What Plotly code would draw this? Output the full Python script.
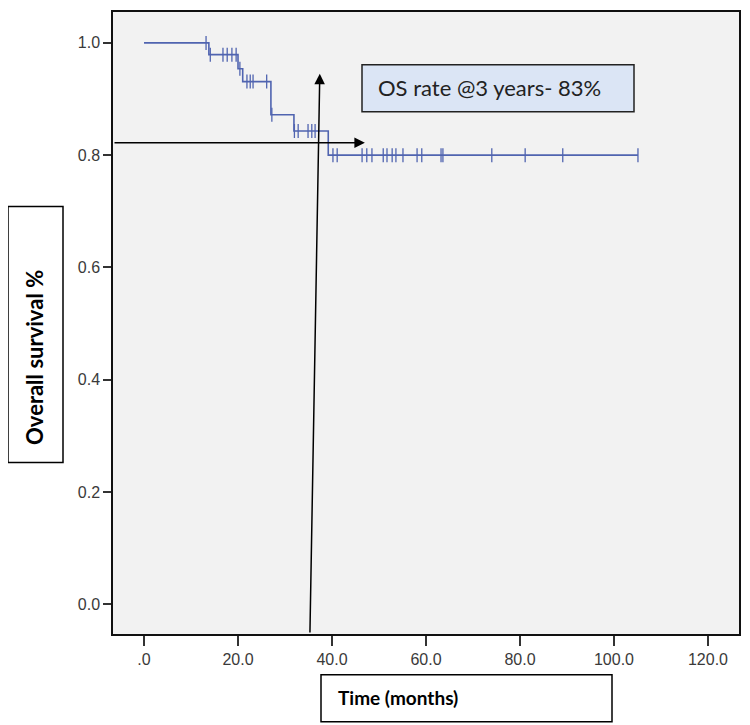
import numpy as np
import plotly.graph_objects as go

# ---- data ----
EVENT_TIMES = [0.0, 13.8, 20.0, 21.0, 27.0, 31.9, 39.2]
SURVIVAL = [1.000, 0.979, 0.954, 0.931, 0.872, 0.843, 0.800]
CENSOR_TIMES = [13.2, 14.1, 16.8, 17.7, 18.7, 19.6, 20.4, 21.9, 22.6, 23.2, 26.1,
                27.2, 32.0, 32.8, 34.9, 35.7, 36.4, 40.2, 41.1, 46.4, 47.4, 48.5,
                50.9, 51.7, 52.8, 53.6, 55.1, 58.1, 59.1, 63.2, 63.6, 74.0, 81.1,
                89.1, 105.1]
X_TICKS = [0, 20, 40, 60, 80, 100, 120]
X_TICK_LABELS = [".0", "20.0", "40.0", "60.0", "80.0", "100.0", "120.0"]
Y_TICKS = [0.0, 0.2, 0.4, 0.6, 0.8, 1.0]
Y_TICK_LABELS = ["0.0", "0.2", "0.4", "0.6", "0.8", "1.0"]
OS_3YR_TEXT = "OS rate @3 years- 83%"
OS_3YR_VALUE = 0.822
THREE_YEARS = (35.3, 37.4)  # bottom / top of the slightly tilted arrow

# ---- layout constants (page has an 8px body margin) ----
OFF = 8
W, H = 750 - OFF, 725 - OFF
L, R, T, B = 113 - OFF, 11, 10 - OFF, 91
X_RANGE = [-6.6, 126.6]
Y_RANGE = [-0.053, 1.055]
LINE_COLOR = "#5064b0"

def px(x):
    # screen pixel -> paper fraction
    return (x - OFF - L) / (W - L - R)

def py(y):
    return (H - B - (y - OFF)) / (H - T - B)

# step curve
curve_x = EVENT_TIMES + [CENSOR_TIMES[-1]]
curve_y = SURVIVAL + [SURVIVAL[-1]]
idx = np.searchsorted(np.array(EVENT_TIMES), np.array(CENSOR_TIMES), side="right") - 1
censor_y = [SURVIVAL[i] for i in idx]

fig = go.Figure()
fig.add_trace(go.Scatter(x=curve_x, y=curve_y, mode="lines", line_shape="hv",
                         line=dict(color=LINE_COLOR, width=1.6), hoverinfo="skip",
                         showlegend=False))
fig.add_trace(go.Scatter(x=CENSOR_TIMES, y=censor_y, mode="markers",
                         marker=dict(symbol="line-ns", size=10,
                                     line=dict(color=LINE_COLOR, width=1.3)),
                         showlegend=False))

axis_common = dict(showline=True, linecolor="#111", linewidth=1.5, mirror=True,
                   ticks="outside", tickwidth=1.5, tickcolor="#333",
                   showgrid=False, zeroline=False,
                   tickfont=dict(family="Liberation Sans", size=16, color="#3a3a3a"))
fig.update_xaxes(range=X_RANGE, tickvals=X_TICKS, ticktext=X_TICK_LABELS, ticklen=10,
                 **axis_common)
fig.update_yaxes(range=Y_RANGE, tickvals=Y_TICKS, ticktext=Y_TICK_LABELS, ticklen=8,
                 **axis_common)

shapes = [
    # y-label box
    dict(type="rect", xref="paper", yref="paper", x0=px(8), x1=px(63), y0=py(462), y1=py(205),
         line=dict(color="black", width=1.5), fillcolor="white"),
    # x-label box
    dict(type="rect", xref="paper", yref="paper", x0=px(321), x1=px(612), y0=py(722), y1=py(675),
         line=dict(color="black", width=1.5), fillcolor="white"),
    # OS rate box
    dict(type="rect", xref="paper", yref="paper", x0=px(362), x1=px(634), y0=py(110), y1=py(63),
         line=dict(color="#222", width=1.5), fillcolor="#dbe5f5"),
    # tiny marks outside top-right
    dict(type="line", xref="paper", yref="paper", x0=px(743), x1=px(747), y0=py(23), y1=py(23),
         line=dict(color="#999", width=1)),
    dict(type="line", xref="paper", yref="paper", x0=px(743), x1=px(747), y0=py(40), y1=py(40),
         line=dict(color="#999", width=1)),
]

annotations = [
    dict(text="<b>Overall survival %</b>", xref="paper", yref="paper", x=px(35), y=py(357),
         xanchor="center", yanchor="middle", textangle=-90, showarrow=False,
         font=dict(family="Lato", size=22, color="black")),
    dict(text="<b>Time (months)</b>", xref="paper", yref="paper", x=px(336), y=py(698),
         xanchor="left", yanchor="middle", showarrow=False,
         font=dict(family="Lato", size=19, color="black")),
    dict(text=OS_3YR_TEXT, xref="paper", yref="paper", x=px(376), y=py(86),
         xanchor="left", yanchor="middle", showarrow=False,
         font=dict(family="Lato", size=22, color="#222")),
    # horizontal arrow at the 3-year OS level
    dict(x=47.0, y=OS_3YR_VALUE, ax=X_RANGE[0], ay=OS_3YR_VALUE, xref="x", yref="y",
         axref="x", ayref="y", showarrow=True, arrowhead=2, arrowsize=1.4,
         arrowwidth=1.5, arrowcolor="black", text=""),
    # vertical arrow at 3 years
    dict(x=THREE_YEARS[1], y=0.945, ax=THREE_YEARS[0], ay=Y_RANGE[0], xref="x", yref="y",
         axref="x", ayref="y", showarrow=True, arrowhead=2, arrowsize=1.4,
         arrowwidth=1.5, arrowcolor="black", text=""),
]

fig.update_layout(width=W, height=H, margin=dict(l=L, r=R, t=T, b=B),
                  paper_bgcolor="white", plot_bgcolor="#f2f2f2",
                  shapes=shapes, annotations=annotations, showlegend=False)

fig.write_html("out.html")
